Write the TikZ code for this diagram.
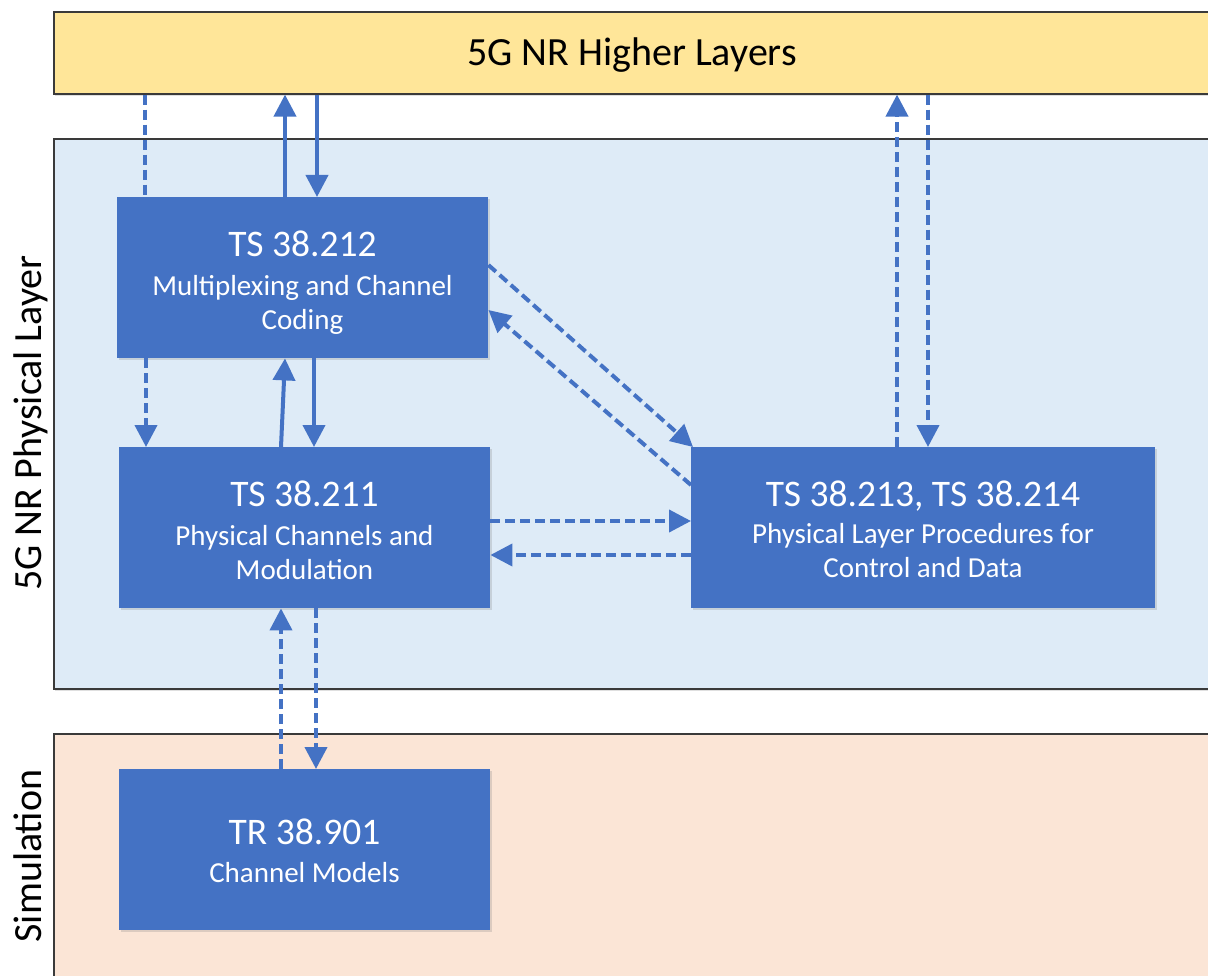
\documentclass[tikz,border=0pt]{standalone}
\usepackage{fontspec}
\setmainfont{Carlito}
\usetikzlibrary{arrows.meta,shadows}
\definecolor{boxblue}{HTML}{4472C4}
\definecolor{hlyellow}{HTML}{FFE699}
\definecolor{phyblue}{HTML}{DEEBF7}
\definecolor{simpeach}{HTML}{FBE5D6}
\definecolor{edgegray}{HTML}{3A3A3A}
\begin{document}
\begin{tikzpicture}[x=1pt,y=-1pt,
  >={Triangle[width=22pt,length=22pt]},
  panel/.style={draw=edgegray, line width=1.6pt, inner sep=0pt, anchor=north west,
    drop shadow={shadow xshift=1.5pt, shadow yshift=-2pt, opacity=0.25}},
  specbox/.style={fill=boxblue, inner sep=0pt, anchor=north west, minimum height=161pt,
    drop shadow={shadow xshift=2pt, shadow yshift=-2pt, opacity=0.25}},
  ttl/.style={text=white, font=\fontsize{37.5}{44}\selectfont, anchor=base, inner sep=0pt},
  sub/.style={text=white, font=\fontsize{29}{34}\selectfont, anchor=base, inner sep=0pt},
  side/.style={text=black, font=\fontsize{40}{48}\selectfont, anchor=base, inner sep=0pt, rotate=90},
  sol/.style={draw=boxblue, line width=4pt},
  dsh/.style={sol, dash pattern=on 10pt off 5pt}]
\useasboundingbox (0,0) rectangle (1208,976);
\clip (0,0) rectangle (1208,976);
\fill[white] (0,0) rectangle (1208,976);

% layers
\node[panel, fill=hlyellow, minimum width=1170pt, minimum height=82pt] (top) at (53,11) {};
\node[panel, fill=phyblue, minimum width=1170pt, minimum height=550pt] (phy) at (53,138) {};
\node[panel, fill=simpeach, minimum width=1170pt, minimum height=270pt] (sim) at (53,733) {};

\node[text=black, font=\fontsize{40}{48}\selectfont, anchor=base, inner sep=0pt] (toptxt) at (632,66) {5G NR Higher Layers};
\node[side] (phytxt) at (41,423) {5G NR Physical Layer};
\node[side] (simtxt) at (41,856) {Simulation};

% spec boxes
\node[specbox, minimum width=371pt] (b212) at (117,197) {};
\node[specbox, minimum width=371pt] (b211) at (119,447) {};
\node[specbox, minimum width=464pt] (b213) at (691,447) {};
\node[specbox, minimum width=371pt] (b901) at (119,769) {};

\node[ttl] (t212) at (302.5,257) {TS 38.212};
\node[sub] (s212a) at (302.5,296) {Multiplexing and Channel};
\node[sub] (s212b) at (302.5,330) {Coding};

\node[ttl] (t211) at (304.5,506) {TS 38.211};
\node[sub] (s211a) at (304.5,545) {Physical Channels and};
\node[sub] (s211b) at (304.5,579) {Modulation};

\node[ttl] (t213) at (923,506) {TS 38.213, TS 38.214};
\node[sub] (s213a) at (923,543) {Physical Layer Procedures for};
\node[sub] (s213b) at (923,577) {Control and Data};

\node[ttl] (t901) at (304.5,844) {TR 38.901};
\node[sub] (s901a) at (304.5,882) {Channel Models};

% higher layers <-> 38.212
\draw[dsh] ([xshift=28pt]b212.north west |- top.south) -- ([xshift=28pt]b212.north west);
\draw[sol,->] ([xshift=168pt]b212.north west) -- ([xshift=168pt]b212.north west |- top.south);
\draw[sol,->] ([xshift=200pt]b212.north west |- top.south) -- ([xshift=200pt]b212.north west);

% 38.212 <-> 38.211
\draw[dsh,->] ([xshift=29pt]b212.south west) -- ([xshift=27pt]b211.north west);
\draw[sol,->] ([xshift=162pt]b211.north west) -- ([xshift=168pt]b212.south west);
\draw[sol,->] ([xshift=197pt]b212.south west) -- ([xshift=195pt]b211.north west);

% 38.212 <-> 38.213
\draw[dsh,->] ([yshift=-68pt]b212.north east) -- ([xshift=2pt]b213.north west);
\draw[dsh,->] ([yshift=-38pt]b213.north west) -- ([yshift=-113pt]b212.north east);

% 38.211 <-> 38.213
\draw[dsh,->] ([yshift=-74pt]b211.north east) -- ([yshift=-74pt]b213.north west);
\draw[dsh,->] ([yshift=-108pt]b213.north west) -- ([yshift=-108pt]b211.north east);

% 38.213 <-> higher layers
\draw[dsh,->] ([xshift=206pt]b213.north west) -- ([xshift=206pt]b213.north west |- top.south);
\draw[dsh,->] ([xshift=237pt]b213.north west |- top.south) -- ([xshift=237pt]b213.north west);

% 38.211 <-> 38.901
\draw[dsh,->] ([xshift=162pt]b901.north west) -- ([xshift=162pt]b211.south west);
\draw[dsh,->] ([xshift=197pt]b211.south west) -- ([xshift=197pt]b901.north west);
\end{tikzpicture}
\end{document}
